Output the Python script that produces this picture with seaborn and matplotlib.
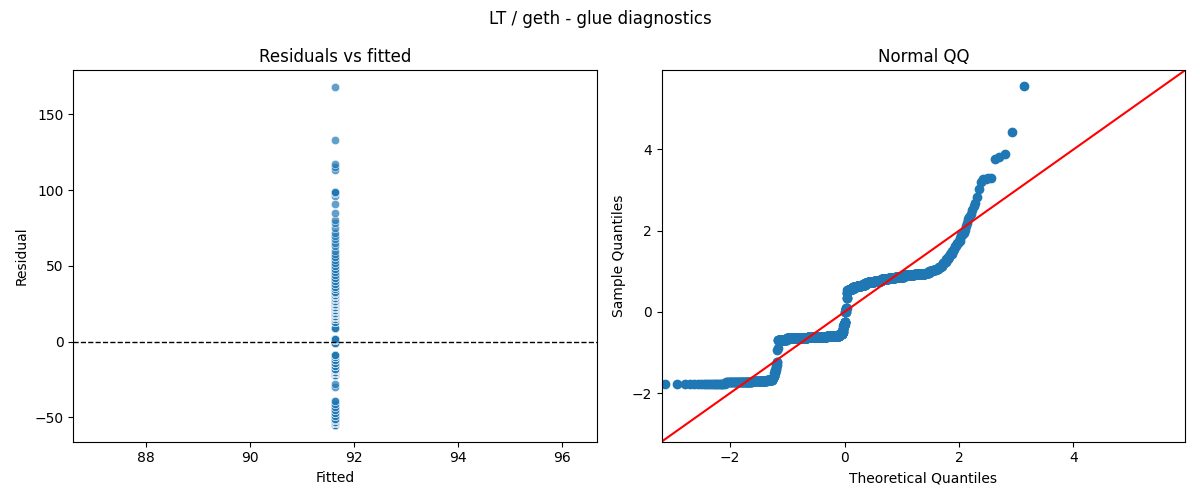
import numpy as np
import pandas as pd
import matplotlib
matplotlib.use("Agg")
import matplotlib.pyplot as plt
import seaborn as sns
from statistics import NormalDist

# ---- data ----
suptitle = "LT / geth - glue diagnostics"
fitted_value = 91.64

resid_values = [-55, -54, -53, -52,
                -51, -49, -47, -45, -43, -41, -39, -30, -28,
                -22, -21, -20, -19, -18,
                -16, -14, -12, -10, -9, -1, 1, 2, 9, 13,
                15, 16, 17, 18, 19, 20, 21, 22, 23, 24, 25, 26, 27,
                28, 29, 30, 31, 32, 33, 35, 36, 38, 40, 42, 44,
                46, 48, 50, 52, 54, 56, 58, 60, 63, 65, 68, 70,
                72, 75, 78, 80, 85, 91,
                96, 98, 99, 113, 115, 117, 133, 168]
resid_counts = [21, 40, 40, 20,
                3, 3, 3, 3, 2, 2, 2, 1, 1,
                40, 120, 140, 100, 23,
                5, 5, 5, 5, 5, 4, 4, 3, 3, 3,
                20, 25, 30, 35, 30, 22, 45, 50, 45, 39, 45, 45, 39,
                10, 9, 8, 6, 5, 3, 3, 3, 3, 3, 3, 2,
                2, 2, 2, 2, 1, 2, 1, 1, 1, 1, 1, 1,
                1, 1, 1, 1, 1, 1,
                1, 2, 2, 1, 1, 1, 1, 1]

qq_limits = [-3.2, 5.95]

# ---- derived ----
resid = np.repeat(np.array(resid_values, dtype=float), resid_counts)
fitted = np.full(resid.shape, fitted_value)
df_res = pd.DataFrame({"Fitted": fitted, "Residual": resid})

z = np.sort((resid - resid.mean()) / resid.std())
n = len(z)
nd = NormalDist()
theo = np.array([nd.inv_cdf(i / (n + 1)) for i in range(1, n + 1)])
df_qq = pd.DataFrame({"Theoretical Quantiles": theo, "Sample Quantiles": z})

# ---- plot ----
fig, (ax1, ax2) = plt.subplots(1, 2, figsize=(12, 5), dpi=100)

sns.scatterplot(data=df_res, x="Fitted", y="Residual", ax=ax1, alpha=0.7)
ax1.axhline(0, color="black", linestyle="--", linewidth=1)
ax1.set_title("Residuals vs fitted")

sns.scatterplot(data=df_qq, x="Theoretical Quantiles", y="Sample Quantiles",
                ax=ax2, s=36, color="#1f77b4", edgecolor="#1f77b4", linewidth=1)
ax2.plot(qq_limits, qq_limits, color="red", linewidth=1.5)
ax2.set_xlim(qq_limits)
ax2.set_ylim(qq_limits)
ax2.set_title("Normal QQ")

fig.suptitle(suptitle)
fig.tight_layout()
fig.savefig("out.png", dpi=100)
